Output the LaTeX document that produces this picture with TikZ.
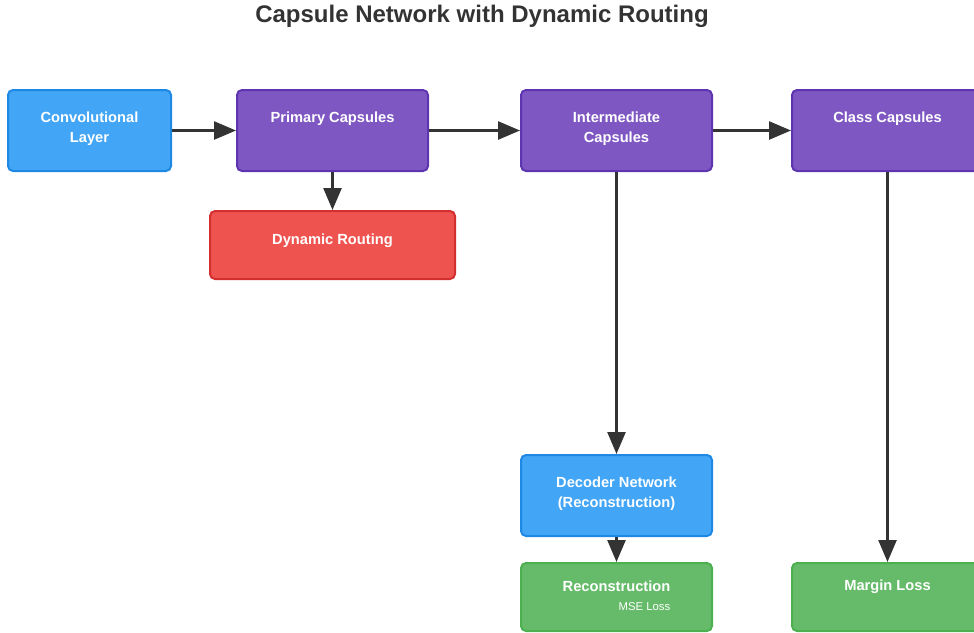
\documentclass[tikz,border=0pt]{standalone}
\usepackage{fontspec}
\setmainfont{Liberation Sans}
\usetikzlibrary{arrows.meta}
\definecolor{bluefill}{HTML}{42A5F5}
\definecolor{blueedge}{HTML}{1E88E5}
\definecolor{purpfill}{HTML}{7E57C2}
\definecolor{purpedge}{HTML}{5E35B1}
\definecolor{redfill}{HTML}{EF5350}
\definecolor{rededge}{HTML}{D32F2F}
\definecolor{greenfill}{HTML}{66BB6A}
\definecolor{greenedge}{HTML}{4CAF50}
\definecolor{arrowgray}{HTML}{333333}
\begin{document}
\begin{tikzpicture}[x=0.75pt,y=-0.75pt,
  box/.style={draw, line width=1.5pt, rounded corners=3.75pt, inner sep=0pt},
  bluebox/.style={box, fill=bluefill, draw=blueedge},
  purpbox/.style={box, fill=purpfill, draw=purpedge},
  redbox/.style={box, fill=redfill, draw=rededge},
  greenbox/.style={box, fill=greenfill, draw=greenedge},
  lbl/.style={text=white, font=\bfseries\fontsize{11}{15}\selectfont, align=center, inner sep=0pt},
  small/.style={text=white, font=\fontsize{8.5}{10}\selectfont, inner sep=0pt},
  arr/.style={draw=arrowgray, line width=1.9pt, -{Triangle[length=16.5pt,width=13.5pt]}}
]
\useasboundingbox (0,0) rectangle (974,632);
\clip (0,0) rectangle (974,632);
\node[font=\bfseries\fontsize{18}{21}\selectfont, text=arrowgray] (title) at (482,16) {Capsule Network with Dynamic Routing};

\node[bluebox, minimum width=122.25pt, minimum height=60.75pt] (conv) at (89.5,130.5) {};
\node[purpbox, minimum width=143.25pt, minimum height=60.75pt] (prim) at (332.5,130.5) {};
\node[redbox, minimum width=183.75pt, minimum height=51pt] (dyn) at (332.5,245) {};
\node[purpbox, minimum width=143.25pt, minimum height=60.75pt] (inter) at (616.5,130.5) {};
\node[purpbox, minimum width=143.25pt, minimum height=60.75pt] (class) at (887.5,130.5) {};
\node[bluebox, minimum width=143.25pt, minimum height=60.75pt] (dec) at (616.5,495.5) {};
\node[greenbox, minimum width=143.25pt, minimum height=51pt] (rec) at (616.5,597) {};
\node[greenbox, minimum width=143.25pt, minimum height=51pt] (margin) at (887.5,597) {};

\node[lbl] (convt) at (89.5,129) {Convolutional\\Layer};
\node[lbl] (primt) at (332.5,119) {Primary Capsules};
\node[lbl] (dynt) at (332.5,241) {Dynamic Routing};
\node[lbl] (intert) at (616.5,129) {Intermediate\\Capsules};
\node[lbl] (classt) at (887.5,119) {Class Capsules};
\node[lbl] (dect) at (616.5,494) {Decoder Network\\(Reconstruction)};
\node[lbl] (rect) at (616.5,586.5) {Reconstruction};
\node[small] (mset) at (644.5,606.5) {MSE Loss};
\node[lbl] (margint) at (887.5,586.5) {Margin Loss};

\draw[arr] (conv.east) -- (prim.west);
\draw[arr] (prim.south) -- (dyn.north);
\draw[arr] (prim.east) -- (inter.west);
\draw[arr] (inter.east) -- (class.west);
\draw[arr] (inter.south) -- (dec.north);
\draw[arr] (class.south) -- (margin.north);
\draw[arr] (dec.south) -- (rec.north);
\end{tikzpicture}
\end{document}
